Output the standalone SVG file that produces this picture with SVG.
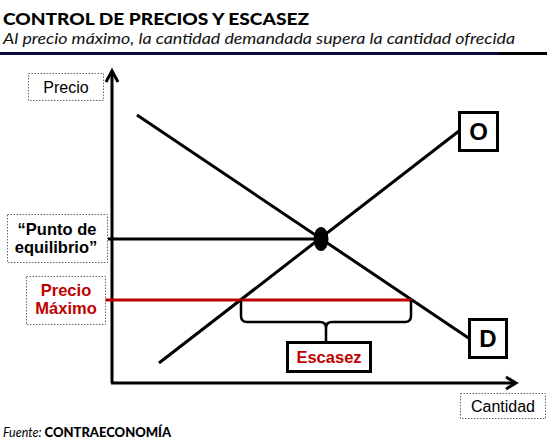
<svg xmlns="http://www.w3.org/2000/svg" width="547" height="445" viewBox="0 0 547 445">
<style>
.lbl{fill:#fff;stroke:#666;stroke-width:1;stroke-dasharray:1.5 1.5}
.box{fill:#fff;stroke:#000;stroke-width:3}
.t{font-family:"Liberation Sans",Arial,sans-serif;font-size:16px;fill:#000;text-anchor:middle}
.b{font-weight:bold;font-size:16.5px}
.big{font-weight:bold;font-size:24px}
.red{fill:#c00000}
.ln{stroke:#000;stroke-width:3;fill:none}
</style>
<rect width="547" height="445" fill="#fff"/>
<g id="header">
<text x="3" y="25" font-family="Lato,'Liberation Sans',sans-serif" font-weight="900" font-size="17" textLength="306" lengthAdjust="spacingAndGlyphs">CONTROL DE PRECIOS Y ESCASEZ</text>
<text x="3" y="44" font-family="Lato,'Liberation Sans',sans-serif" font-style="italic" font-size="14.5" fill="#111" textLength="512" lengthAdjust="spacingAndGlyphs">Al precio máximo, la cantidad demandada supera la cantidad ofrecida</text>
<rect x="0" y="52" width="500" height="3" fill="#0a0a3a"/>
<rect x="500" y="52" width="47" height="3" fill="#000"/>
</g>
<g id="connectors">
<path d="M112,383 V72" stroke="#000" stroke-width="3" fill="none"/>
<path d="M106,82 L112,71 L118,82" stroke="#000" stroke-width="3" fill="none"/>
<path d="M111,383 H515" stroke="#000" stroke-width="3" fill="none"/>
<path d="M506,377 L516,383 L506,389" stroke="#000" stroke-width="3" fill="none"/>
<line x1="159" y1="363" x2="459" y2="131" class="ln"/>
<line x1="137" y1="115" x2="470" y2="339" class="ln"/>
<line x1="108" y1="239" x2="322" y2="239" class="ln"/>
<line x1="105" y1="300" x2="412" y2="300" stroke="#c00000" stroke-width="3"/>
<path d="M241,300 V316 Q241,322 247,322 H320 Q326,322 326,328 V342 M326,328 Q326,322 332,322 H405 Q411,322 411,316 V300" stroke="#000" stroke-width="2.5" fill="none"/>
</g>
<g id="equilibrio-punto"><ellipse cx="321" cy="239" rx="7.5" ry="12" fill="#000"/></g>
<g id="precio"><rect x="28.5" y="73.5" width="75" height="27" class="lbl"/><text x="66" y="93" class="t">Precio</text></g>
<g id="cantidad"><rect x="460.5" y="393.5" width="85" height="25" class="lbl"/><text x="503" y="412" class="t">Cantidad</text></g>
<g id="punto-equilibrio"><rect x="7.5" y="214.5" width="100" height="48" class="lbl"/><text x="57" y="235" class="t b">“Punto de</text><text x="56" y="253" class="t b">equilibrio”</text></g>
<g id="precio-maximo"><rect x="26.5" y="276.5" width="79" height="48" class="lbl"/><text x="66" y="296" class="t b red">Precio</text><text x="66" y="314" class="t b red">Máximo</text></g>
<g id="escasez"><rect x="287.5" y="342.5" width="83" height="29" class="box" stroke-width="2.5"/><text x="329" y="363" class="t b red">Escasez</text></g>
<g id="oferta"><rect x="459.5" y="112.5" width="38" height="38" class="box"/><text x="478.5" y="140" class="t big">O</text></g>
<g id="demanda"><rect x="469.5" y="319.5" width="37" height="38" class="box"/><text x="488" y="347" class="t big">D</text></g>
<g id="fuente"><text x="3" y="437" font-family="Lato,'Liberation Sans',sans-serif" font-size="12.5"><tspan font-style="italic">Fuente: </tspan><tspan font-weight="900" font-size="13">CONTRAECONOMÍA</tspan></text></g>
</svg>
